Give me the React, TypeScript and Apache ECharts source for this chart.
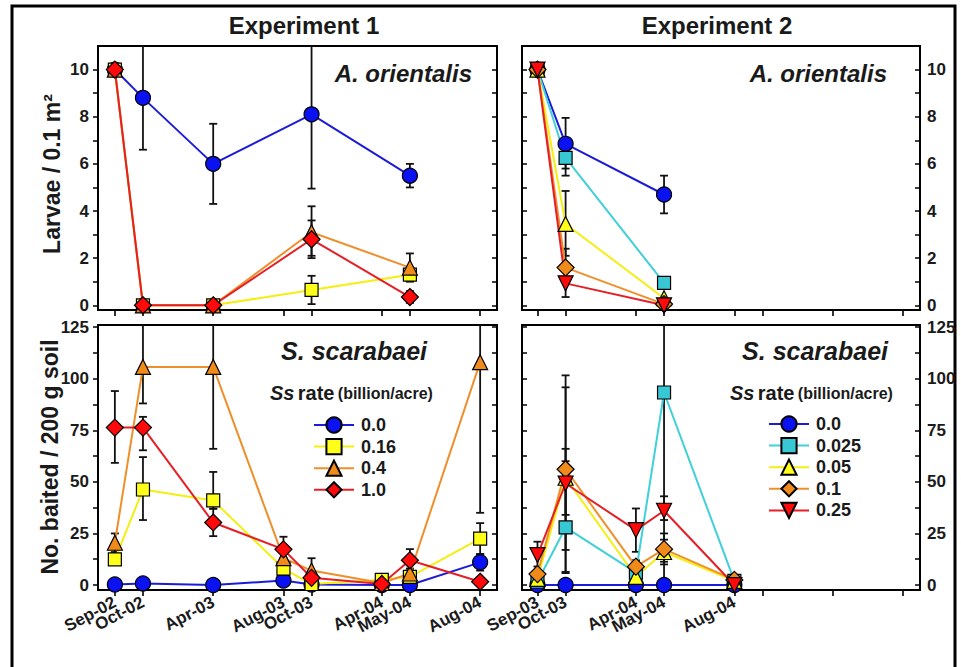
import React, { useEffect, useRef } from 'react';
import * as echarts from 'echarts';

const FONT = 'Arial, "Liberation Sans", Helvetica, sans-serif';

// ---------- axes / categories ----------
const exp1Dates = ['Sep-02', 'Oct-02', 'Apr-03', 'Aug-03', 'Oct-03', 'Apr-04', 'May-04', 'Aug-04'];
const exp1Pos = [0, 1, 3.5, 6, 7, 9.5, 10.5, 13];
const exp2Dates = ['Sep-03', 'Oct-03', 'Apr-04', 'May-04', 'Aug-04'];
const exp2Pos = [0, 1, 3.5, 4.5, 7];
const exp2TickPos = [0, 1, 3.5, 4.5, 7, 8, 10.5, 13];

const larvaeTicks = [0, 1, 2, 3, 4, 5, 6, 7, 8, 9, 10];
const larvaeLabels = [0, 2, 4, 6, 8, 10];
const baitTicks = [0, 12.5, 25, 37.5, 50, 62.5, 75, 87.5, 100, 112.5, 125];
const baitLabels = [0, 25, 50, 75, 100, 125];

const exp1Rates = ['0.0', '0.16', '0.4', '1.0'];
const exp2Rates = ['0.0', '0.025', '0.05', '0.1', '0.25'];

// ---------- Experiment 1 : A. orientalis larvae (per exp1Dates) ----------
const e1L_0 = [10, 8.8, 6.0, null, 8.1, null, 5.5, null];
const e1L_0_lo = [null, 6.6, 4.3, null, 4.95, null, 5.0, null];
const e1L_0_hi = [null, 12, 7.7, null, 12, null, 6.0, null];
const e1L_016 = [10, 0, 0, null, 0.65, null, 1.3, null];
const e1L_016_lo = [null, null, null, null, 0.05, null, 1.0, null];
const e1L_016_hi = [null, null, null, null, 1.25, null, 1.6, null];
const e1L_04 = [10, 0, 0, null, 3.1, null, 1.6, null];
const e1L_04_lo = [null, null, null, null, 2.1, null, 1.2, null];
const e1L_04_hi = [null, null, null, null, 4.2, null, 2.2, null];
const e1L_1 = [10, 0, 0, null, 2.8, null, 0.35, null];
const e1L_1_lo = [null, null, null, null, 2.0, null, 0.1, null];
const e1L_1_hi = [null, null, null, null, 3.6, null, 0.6, null];

// ---------- Experiment 1 : S. scarabaei baited ----------
const e1S_0 = [0.3, 0.8, 0, 2.2, 0.3, 0, 0, 11];
const e1S_0_lo = [null, null, null, null, null, null, null, 7];
const e1S_0_hi = [null, null, null, null, null, null, null, 15];
const e1S_016 = [12.4, 46.3, 41, 8, 0.5, 2.5, 4, 22.5];
const e1S_016_lo = [null, 31.5, 37, 3, null, null, 1, 15];
const e1S_016_hi = [null, 62, 54.8, 13, null, null, 7, 30];
const e1S_04 = [20.5, 105.7, 105.7, 13, 7, 1, 5.6, 108];
const e1S_04_lo = [16, 88, 66, 9, 2, null, 3, 35];
const e1S_04_hi = [25, 135, 135, 17, 13, null, 8, 135];
const e1S_1 = [76.3, 76.3, 30.3, 17.3, 3.5, 0.5, 12, 1.6];
const e1S_1_lo = [59.2, 65.3, 23.7, 11, 1, null, 7, null];
const e1S_1_hi = [94, 81.5, 37, 23.4, 6, null, 17.4, null];

// ---------- Experiment 2 : A. orientalis larvae (per exp2Dates) ----------
const e2L_0 = [10, 6.85, null, 4.7, null];
const e2L_0_lo = [null, 5.8, null, 3.9, null];
const e2L_0_hi = [null, 7.95, null, 5.5, null];
const e2L_025 = [10, 6.25, null, 0.95, null];
const e2L_025_lo = [null, 5.5, null, 0.7, null];
const e2L_025_hi = [null, 6.8, null, 1.2, null];
const e2L_05 = [10, 3.45, null, 0.3, null];
const e2L_05_lo = [null, 2.1, null, null, null];
const e2L_05_hi = [null, 4.85, null, null, null];
const e2L_1 = [10, 1.6, null, 0.05, null];
const e2L_1_lo = [null, 1.1, null, null, null];
const e2L_1_hi = [null, 2.4, null, null, null];
const e2L_25 = [10, 0.93, null, 0, null];
const e2L_25_lo = [null, 0.35, null, null, null];
const e2L_25_hi = [null, 1.5, null, null, null];

// ---------- Experiment 2 : S. scarabaei baited ----------
const e2S_0 = [0, 0, 0, 0, 0];
const e2S_025 = [1.6, 27.9, 6, 93.3, 2];
const e2S_025_lo = [null, 6.4, null, 0, null];
const e2S_025_hi = [null, 66, null, 135, null];
const e2S_05 = [3, 52, 4, 16, 2];
const e2S_05_lo = [null, 34, null, 10, null];
const e2S_05_hi = [null, 60, null, 22, null];
const e2S_1 = [5.3, 56.1, 8.9, 17.4, 2.5];
const e2S_1_lo = [null, 17, 5, 11.3, null];
const e2S_1_hi = [null, 101.6, 12, 25, null];
const e2S_25 = [14.5, 49.2, 26.6, 36, 0];
const e2S_25_lo = [9, 5.8, 16.1, 31.5, null];
const e2S_25_hi = [21, 95.8, 37.1, 43, null];

// ---------- styles ----------
const STY: Record<string, { line: string; fill: string; symbol: string; size: number }> = {
  blue: { line: '#1c1cd6', fill: '#0a12f2', symbol: 'circle', size: 15 },
  yellow: { line: '#f4ef10', fill: '#ffff1a', symbol: 'rect', size: 13 },
  orange: { line: '#ef8f2a', fill: '#f08a1a', symbol: 'triangle', size: 15 },
  red: { line: '#e51f26', fill: '#ff0a0a', symbol: 'diamond', size: 17 },
  cyan: { line: '#3fd0d8', fill: '#38c8d4', symbol: 'rect', size: 13 },
  orangeD: { line: '#ef8f2a', fill: '#f08a1a', symbol: 'diamond', size: 17 },
  redV: { line: '#e51f26', fill: '#ff0a0a', symbol: 'path://M0,0 L10,0 L5,9 Z', size: 15 },
  yellowT: { line: '#f4ef10', fill: '#ffff1a', symbol: 'triangle', size: 15 },
};

function pts(pos: number[], vals: (number | null)[]) {
  const out: number[][] = [];
  vals.forEach((v, i) => {
    if (v !== null && v !== undefined) out.push([pos[i], v]);
  });
  return out;
}

function errs(pos: number[], lo: (number | null)[], hi: (number | null)[]) {
  const out: number[][] = [];
  lo.forEach((l, i) => {
    const h = hi[i];
    if (l !== null && h !== null && l !== undefined && h !== undefined) out.push([pos[i], l, h]);
  });
  return out;
}

function lineSeries(name: string, g: number, pos: number[], vals: (number | null)[], sty: string) {
  const s = STY[sty];
  return {
    type: 'line',
    name,
    xAxisIndex: g,
    yAxisIndex: g * 2,
    data: pts(pos, vals),
    symbol: s.symbol,
    symbolSize: s.size,
    showAllSymbol: true,
    lineStyle: { color: s.line, width: 2 },
    itemStyle: { color: s.fill, borderColor: '#000', borderWidth: 1.2 },
    z: 3,
    clip: false,
  };
}

function errorSeries(g: number, data: number[][]) {
  return {
    type: 'custom',
    xAxisIndex: g,
    yAxisIndex: g * 2,
    data,
    z: 2,
    silent: true,
    encode: { x: 0, y: [1, 2] },
    renderItem: (params: any, api: any) => {
      const x = api.value(0);
      const lo = api.value(1);
      const hi = api.value(2);
      const cs = params.coordSys;
      const t = api.coord([x, hi]);
      const b = api.coord([x, lo]);
      const yTop = Math.max(t[1], cs.y);
      const yBot = Math.min(b[1], cs.y + cs.height);
      const st = { stroke: '#111', lineWidth: 1.8 };
      const children: any[] = [
        { type: 'line', shape: { x1: t[0], y1: yTop, x2: t[0], y2: yBot }, style: st },
      ];
      if (t[1] >= cs.y) children.push({ type: 'line', shape: { x1: t[0] - 4, y1: t[1], x2: t[0] + 4, y2: t[1] }, style: st });
      if (b[1] <= cs.y + cs.height) children.push({ type: 'line', shape: { x1: b[0] - 4, y1: b[1], x2: b[0] + 4, y2: b[1] }, style: st });
      return { type: 'group', children };
    },
  };
}

const labelStyle = { fontFamily: FONT, fontWeight: 'bold', color: '#1a1a1a' };

function xAxis(
  g: number,
  min: number,
  ticks: number[] | null,
  labelPos: number[] | null,
  dates: string[],
  pos: number[],
) {
  return {
    type: 'value',
    gridIndex: g,
    position: 'bottom',
    offset: 0,
    min,
    max: 13.6,
    axisLine: { show: !!ticks, onZero: false, lineStyle: { color: '#000', width: 2 } },
    axisTick: { show: !!ticks, customValues: ticks || [], length: 6, inside: false, lineStyle: { color: '#000', width: 1.6 } },
    axisLabel: {
      show: !!labelPos,
      customValues: labelPos || [],
      rotate: 28,
      margin: 11,
      fontSize: 17,
      hideOverlap: false,
      showMinLabel: true,
      showMaxLabel: true,
      ...labelStyle,
      formatter: (v: number) => {
        const i = pos.indexOf(v);
        return i >= 0 ? dates[i] : '';
      },
    },
    splitLine: { show: false },
  };
}

function yAxes(g: number, min: number, max: number, ticks: number[], labels: number[], side: 'left' | 'right') {
  const other = side === 'left' ? 'right' : 'left';
  return [
    {
      type: 'value',
      gridIndex: g,
      position: side,
      min,
      max,
      axisLine: { show: true, onZero: false, lineStyle: { color: '#000', width: 2 } },
      axisTick: { show: true, customValues: ticks, length: 5, inside: side === 'right', lineStyle: { color: '#000', width: 1.5 } },
      axisLabel: { show: true, customValues: labels, margin: side === 'left' ? 9 : 7, fontSize: 17, ...labelStyle },
      splitLine: { show: false },
    },
    {
      type: 'value',
      gridIndex: g,
      position: other,
      min,
      max,
      axisLine: { show: true, onZero: false, lineStyle: { color: '#000', width: 2 } },
      axisTick: { show: true, customValues: ticks, length: 5, inside: true, lineStyle: { color: '#000', width: 1.5 } },
      axisLabel: { show: false },
      splitLine: { show: false },
    },
  ];
}

const legendTitleRich = {
  i: { font: `italic bold 20px ${FONT}`, fill: '#1a1a1a' },
  b: { font: `bold 20px ${FONT}`, fill: '#1a1a1a' },
  s: { font: `bold 16px ${FONT}`, fill: '#1a1a1a' },
};

// alternate labels split over two overlaid axes so that none is hidden
const everyOther = (arr: number[], start: number) => arr.filter((_, i) => i % 2 === start);

export default function App() {
  const ref = useRef<HTMLDivElement>(null);
  useEffect(() => {
    if (!ref.current) return;
    const chart = echarts.init(ref.current, null, { renderer: 'svg' });

    const series: any[] = [
      // grid 0: exp1 larvae
      errorSeries(0, [
        ...errs(exp1Pos, e1L_0_lo, e1L_0_hi),
        ...errs(exp1Pos, e1L_016_lo, e1L_016_hi),
        ...errs(exp1Pos, e1L_04_lo, e1L_04_hi),
        ...errs(exp1Pos, e1L_1_lo, e1L_1_hi),
      ]),
      lineSeries(exp1Rates[0], 0, exp1Pos, e1L_0, 'blue'),
      lineSeries(exp1Rates[1], 0, exp1Pos, e1L_016, 'yellow'),
      lineSeries(exp1Rates[2], 0, exp1Pos, e1L_04, 'orange'),
      lineSeries(exp1Rates[3], 0, exp1Pos, e1L_1, 'red'),
      // grid 1: exp2 larvae
      errorSeries(1, [
        ...errs(exp2Pos, e2L_0_lo, e2L_0_hi),
        ...errs(exp2Pos, e2L_025_lo, e2L_025_hi),
        ...errs(exp2Pos, e2L_05_lo, e2L_05_hi),
        ...errs(exp2Pos, e2L_1_lo, e2L_1_hi),
        ...errs(exp2Pos, e2L_25_lo, e2L_25_hi),
      ]),
      lineSeries(exp2Rates[0], 1, exp2Pos, e2L_0, 'blue'),
      lineSeries(exp2Rates[1], 1, exp2Pos, e2L_025, 'cyan'),
      lineSeries(exp2Rates[2], 1, exp2Pos, e2L_05, 'yellowT'),
      lineSeries(exp2Rates[3], 1, exp2Pos, e2L_1, 'orangeD'),
      lineSeries(exp2Rates[4], 1, exp2Pos, e2L_25, 'redV'),
      // grid 2: exp1 S. scarabaei
      errorSeries(2, [
        ...errs(exp1Pos, e1S_0_lo, e1S_0_hi),
        ...errs(exp1Pos, e1S_016_lo, e1S_016_hi),
        ...errs(exp1Pos, e1S_04_lo, e1S_04_hi),
        ...errs(exp1Pos, e1S_1_lo, e1S_1_hi),
      ]),
      lineSeries(exp1Rates[0], 2, exp1Pos, e1S_0, 'blue'),
      lineSeries(exp1Rates[1], 2, exp1Pos, e1S_016, 'yellow'),
      lineSeries(exp1Rates[2], 2, exp1Pos, e1S_04, 'orange'),
      lineSeries(exp1Rates[3], 2, exp1Pos, e1S_1, 'red'),
      // grid 3: exp2 S. scarabaei
      errorSeries(3, [
        ...errs(exp2Pos, e2S_025_lo, e2S_025_hi),
        ...errs(exp2Pos, e2S_05_lo, e2S_05_hi),
        ...errs(exp2Pos, e2S_1_lo, e2S_1_hi),
        ...errs(exp2Pos, e2S_25_lo, e2S_25_hi),
      ]),
      lineSeries(exp2Rates[0], 3, exp2Pos, e2S_0, 'blue'),
      lineSeries(exp2Rates[1], 3, exp2Pos, e2S_025, 'cyan'),
      lineSeries(exp2Rates[2], 3, exp2Pos, e2S_05, 'yellowT'),
      lineSeries(exp2Rates[3], 3, exp2Pos, e2S_1, 'orangeD'),
      lineSeries(exp2Rates[4], 3, exp2Pos, e2S_25, 'redV'),
    ];

    const gridBase = { show: true, borderColor: '#000', borderWidth: 2, backgroundColor: 'transparent', containLabel: false };
    const legendBase = {
      orient: 'vertical',
      itemWidth: 40,
      itemHeight: 19,
      itemGap: 3.6,
      selectedMode: false,
      textStyle: { fontFamily: FONT, fontWeight: 'bold', fontSize: 18, color: '#1a1a1a', padding: [0, 0, 0, 2] },
    };

    const option: any = {
      animation: false,
      backgroundColor: '#ffffff',
      grid: [
        { ...gridBase, left: 98, top: 46, width: 399, height: 264 },
        { ...gridBase, left: 522, top: 46, width: 398, height: 264 },
        { ...gridBase, left: 98, top: 325, width: 399, height: 265 },
        { ...gridBase, left: 522, top: 325, width: 398, height: 265 },
      ],
      xAxis: [
        xAxis(0, -0.6, exp1Pos, null, exp1Dates, exp1Pos),
        xAxis(1, -0.55, exp2TickPos, null, exp2Dates, exp2Pos),
        xAxis(2, -0.6, exp1Pos, everyOther(exp1Pos, 0), exp1Dates, exp1Pos),
        xAxis(3, -0.55, exp2TickPos, everyOther(exp2Pos, 0), exp2Dates, exp2Pos),
        xAxis(2, -0.6, null, everyOther(exp1Pos, 1), exp1Dates, exp1Pos),
        xAxis(3, -0.55, null, everyOther(exp2Pos, 1), exp2Dates, exp2Pos),
      ],
      yAxis: [
        ...yAxes(0, -0.2, 11, larvaeTicks, larvaeLabels, 'left'),
        ...yAxes(1, -0.2, 11, larvaeTicks, larvaeLabels, 'right'),
        ...yAxes(2, -2.4, 126, baitTicks, baitLabels, 'left'),
        ...yAxes(3, -2.4, 126, baitTicks, baitLabels, 'right'),
      ],
      legend: [
        { ...legendBase, data: exp1Rates, left: 308, top: 411 },
        { ...legendBase, data: exp2Rates, left: 763, top: 410 },
      ],
      graphic: [
        {
          type: 'rect',
          silent: true,
          shape: { x: 12, y: 6, width: 943, height: 720 },
          style: { fill: 'none', stroke: '#000', lineWidth: 3 },
        },
        { type: 'text', x: 304, y: 25, style: { text: 'Experiment 1', font: `bold 24px ${FONT}`, fill: '#1a1a1a', align: 'center', verticalAlign: 'middle' } },
        { type: 'text', x: 717, y: 25, style: { text: 'Experiment 2', font: `bold 24px ${FONT}`, fill: '#1a1a1a', align: 'center', verticalAlign: 'middle' } },
        { type: 'text', x: 472, y: 73, style: { text: 'A. orientalis', font: `italic bold 24px ${FONT}`, fill: '#1a1a1a', align: 'right', verticalAlign: 'middle' } },
        { type: 'text', x: 887, y: 73, style: { text: 'A. orientalis', font: `italic bold 24px ${FONT}`, fill: '#1a1a1a', align: 'right', verticalAlign: 'middle' } },
        { type: 'text', x: 427, y: 351, style: { text: 'S. scarabaei', font: `italic bold 25px ${FONT}`, fill: '#1a1a1a', align: 'right', verticalAlign: 'middle' } },
        { type: 'text', x: 888, y: 351, style: { text: 'S. scarabaei', font: `italic bold 25px ${FONT}`, fill: '#1a1a1a', align: 'right', verticalAlign: 'middle' } },
        {
          type: 'text', x: 270, y: 393,
          style: { text: '{i|Ss} {b|rate} {s|(billion/acre)}', verticalAlign: 'middle', rich: legendTitleRich },
        },
        {
          type: 'text', x: 730, y: 393,
          style: { text: '{i|Ss} {b|rate} {s|(billion/acre)}', verticalAlign: 'middle', rich: legendTitleRich },
        },
        {
          type: 'text', x: 52, y: 174, rotation: Math.PI / 2,
          style: { text: 'Larvae / 0.1 m²', font: `bold 23px ${FONT}`, fill: '#1a1a1a', align: 'center', verticalAlign: 'middle' },
        },
        {
          type: 'text', x: 50, y: 457, rotation: Math.PI / 2,
          style: { text: 'No. baited / 200 g soil', font: `bold 23px ${FONT}`, fill: '#1a1a1a', align: 'center', verticalAlign: 'middle' },
        },
      ],
      series,
    };

    chart.setOption(option);
    return () => chart.dispose();
  }, []);

  return <div ref={ref} style={{ position: 'fixed', left: 0, top: 0, width: 961, height: 667, background: '#fff' }} />;
}
